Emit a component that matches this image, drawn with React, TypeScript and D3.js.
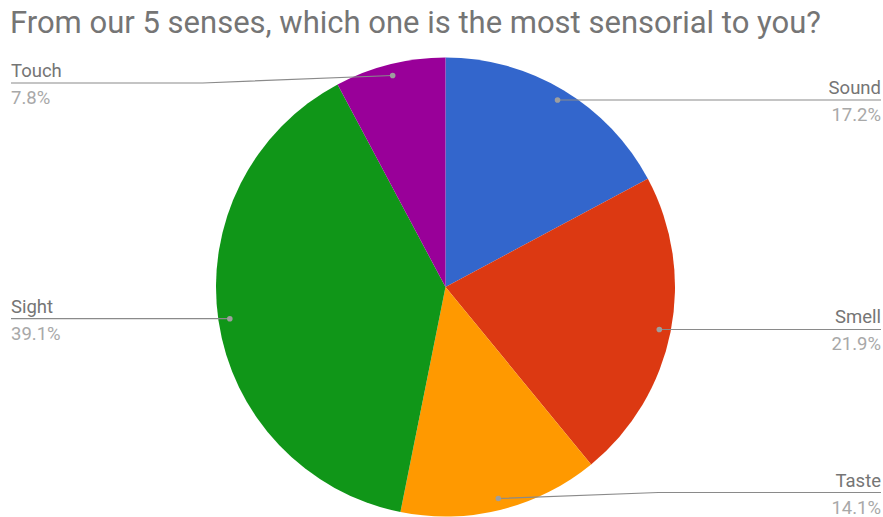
import React from "react";
import * as d3 from "d3";

const categories = ["Sound", "Smell", "Taste", "Sight", "Touch"];
const values = [17.2, 21.9, 14.1, 39.1, 7.8];
const percentLabels = ["17.2%", "21.9%", "14.1%", "39.1%", "7.8%"];
const colors = ["#3366cc", "#dc3912", "#ff9900", "#109618", "#990099"];
const title = "From our 5 senses, which one is the most sensorial to you?";

const W = 883;
const H = 517;
const cx = 445.5;
const cy = 287;
const R = 229.5;
const dotR = 218;

// label line y positions and side
const labelLineY = [100, 330, 492.5, 319, 83];
const labelSide = ["right", "right", "right", "left", "left"];

export default function App() {
  const pie = d3
    .pie<number>()
    .sort(null)
    .value((d) => d)
    .startAngle(0)
    .endAngle(2 * Math.PI);
  const arcs = pie(values);
  const arc = d3.arc<d3.PieArcDatum<number>>().innerRadius(0).outerRadius(R);

  return (
    <svg
      width={W}
      height={H}
      style={{ position: "absolute", left: 0, top: 0, background: "#fff" }}
      fontFamily="Roboto, sans-serif"
    >
      <rect width={W} height={H} fill="#fff" />
      <text x={10} y={33} fontSize={31} fill="#757575">
        {title}
      </text>
      <g transform={`translate(${cx},${cy})`}>
        {arcs.map((a, i) => (
          <path key={i} d={arc(a) || ""} fill={colors[i]} />
        ))}
      </g>
      {arcs.map((a, i) => {
        const mid = (a.startAngle + a.endAngle) / 2;
        const dx = cx + dotR * Math.sin(mid);
        const dy = cy - dotR * Math.cos(mid);
        const ly = labelLineY[i];
        const right = labelSide[i] === "right";
        const endX = right ? 881 : 11;
        let pts: [number, number][];
        if (Math.abs(dy - ly) < 2) {
          pts = [
            [dx, dy],
            [endX, dy],
          ];
        } else {
          const bendX = right ? dx + 160 : dx - 190;
          pts = [
            [dx, dy],
            [bendX, ly],
            [endX, ly],
          ];
        }
        const lineY = Math.abs(dy - ly) < 2 ? dy : ly;
        const line = d3.line();
        return (
          <g key={"l" + i}>
            <path d={line(pts) || ""} fill="none" stroke="#8a8a8a" strokeWidth={1.2} />
            <circle cx={dx} cy={dy} r={2.8} fill="#9e9e9e" />
            <text
              x={endX}
              y={lineY - 6}
              fontSize={18.5}
              fill="#757575"
              textAnchor={right ? "end" : "start"}
            >
              {categories[i]}
            </text>
            <text
              x={endX}
              y={lineY + 21}
              fontSize={18.5}
              fill="#a8a8a8"
              textAnchor={right ? "end" : "start"}
            >
              {percentLabels[i]}
            </text>
          </g>
        );
      })}
    </svg>
  );
}
